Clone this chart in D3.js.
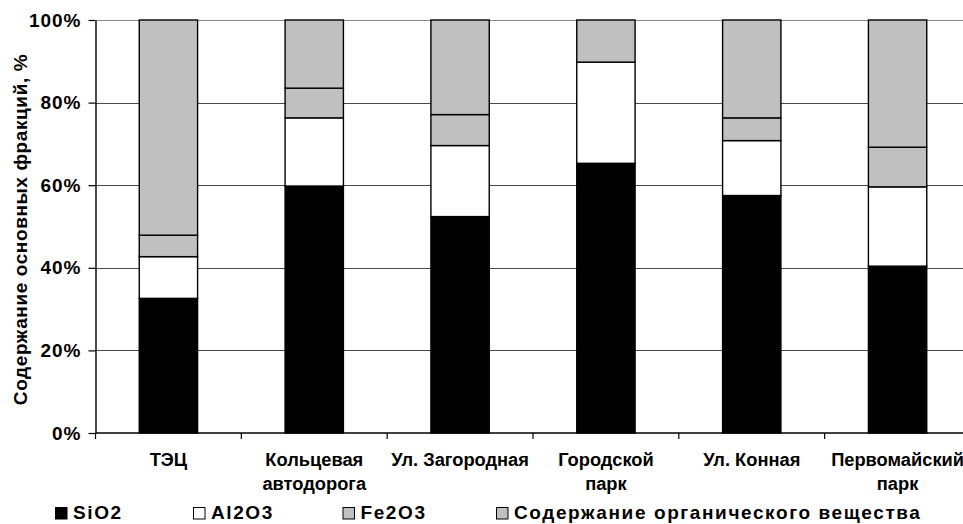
<!DOCTYPE html>
<html>
<head>
<meta charset="utf-8">
<script src="https://cdn.jsdelivr.net/npm/d3@7"></script>
<style>
  html, body { margin: 0; padding: 0; background: #fff; }
  svg { display: block; }
  text { font-family: "Liberation Sans", Arial, sans-serif; font-weight: bold; fill: #000; }
</style>
</head>
<body>
<svg id="chart" width="963" height="524"></svg>
<script>
// Sampling sites (two-line labels split on "\n")
const sites = ["ТЭЦ", "Кольцевая\nавтодорога", "Ул. Загородная", "Городской\nпарк", "Ул. Конная", "Первомайский\nпарк"];

// Share of each fraction, %
const sio2    = [32.6, 59.8, 52.4, 65.3, 57.5, 40.4];
const al2o3   = [10.1, 16.5, 17.2, 24.5, 13.3, 19.2];
const fe2o3   = [5.2, 7.2, 7.5, 0.0, 5.5, 9.6];
const organic = [52.1, 16.5, 22.9, 10.2, 23.7, 30.8];

const seriesNames = ["SiO2", "Al2O3", "Fe2O3", "Содержание органического вещества"];
const seriesColors = ["#000000", "#ffffff", "#c0c0c0", "#c0c0c0"];
const yTicks = [0, 20, 40, 60, 80, 100];
const yTitle = "Содержание основных фракций, %";

const svg = d3.select("#chart");
const plotLeft = 95.5, plotRight = 970.5, plotTop = 20, plotBottom = 433;

const rows = sites.map((s, i) => ({
  site: s, SiO2: sio2[i], Al2O3: al2o3[i], Fe2O3: fe2o3[i],
  "Содержание органического вещества": organic[i]
}));

const x = d3.scaleBand().domain(sites).range([plotLeft, plotRight])
  .paddingInner(0.6).paddingOuter(0.3);
const y = d3.scaleLinear().domain([0, 100]).range([plotBottom, plotTop]);

// Horizontal gridlines
svg.append("g")
  .selectAll("line")
  .data(yTicks.filter(d => d > 0))
  .join("line")
  .attr("x1", plotLeft).attr("x2", plotRight)
  .attr("y1", d => Math.round(y(d)) + 0.5).attr("y2", d => Math.round(y(d)) + 0.5)
  .attr("stroke", d => d === 100 ? "#8a8a8a" : "#4a4a4a")
  .attr("stroke-width", 1);

// Stacked bars
const stack = d3.stack().keys(seriesNames);
const layers = stack(rows);
svg.append("g")
  .selectAll("g")
  .data(layers)
  .join("g")
  .attr("fill", (d, i) => seriesColors[i])
  .selectAll("rect")
  .data(d => d)
  .join("rect")
  .attr("x", d => x(d.data.site))
  .attr("width", x.bandwidth())
  .attr("y", d => y(d[1]))
  .attr("height", d => y(d[0]) - y(d[1]))
  .attr("stroke", "#000")
  .attr("stroke-width", 1.4);

// Y axis
const yAxis = d3.axisLeft(y).tickValues(yTicks).tickFormat(d => d + "%")
  .tickSizeInner(7).tickSizeOuter(0).tickPadding(7);
const gy = svg.append("g").attr("transform", `translate(${plotLeft},0)`).call(yAxis);
gy.select(".domain").attr("stroke", "#000").attr("stroke-width", 1.4);
gy.selectAll(".tick line").attr("stroke", "#000").attr("stroke-width", 1.2);
gy.selectAll(".tick text")
  .attr("font-size", 19)
  .attr("font-family", null)
  .attr("letter-spacing", 1);

// X axis: line with ticks on category boundaries
const step = x.step();
const boundaries = d3.range(sites.length + 1).map(i => plotLeft + i * step);
svg.append("line")
  .attr("x1", plotLeft).attr("x2", plotRight)
  .attr("y1", plotBottom).attr("y2", plotBottom)
  .attr("stroke", "#000").attr("stroke-width", 1.4);
svg.append("g").selectAll("line")
  .data(boundaries)
  .join("line")
  .attr("x1", d => d).attr("x2", d => d)
  .attr("y1", plotBottom).attr("y2", plotBottom + 6)
  .attr("stroke", "#000").attr("stroke-width", 1.2);

// Category labels
const lbl = svg.append("g").selectAll("text")
  .data(sites)
  .join("text")
  .attr("text-anchor", "middle")
  .attr("font-size", 18.3)
  .attr("transform", d => `translate(${x(d) + x.bandwidth() / 2},${465.5})`);
lbl.selectAll("tspan")
  .data(d => d.split("\n"))
  .join("tspan")
  .attr("x", 0)
  .attr("y", (d, i) => i * 24)
  .text(d => d);

// Y axis title
svg.append("text")
  .attr("transform", `translate(27,${(plotTop + plotBottom) / 2 + 3}) rotate(-90)`)
  .attr("text-anchor", "middle")
  .attr("font-size", 19)
  .attr("letter-spacing", 0.6)
  .text(yTitle);

// Legend
const legendX = [55, 193, 342.5, 496];
const lg = svg.append("g").selectAll("g")
  .data(seriesNames)
  .join("g")
  .attr("transform", (d, i) => `translate(${legendX[i]},0)`);
lg.append("rect")
  .attr("x", 0.5).attr("y", 507.5)
  .attr("width", 11.5).attr("height", 11.5)
  .attr("fill", (d, i) => seriesColors[i])
  .attr("stroke", "#000").attr("stroke-width", 1);
lg.append("text")
  .attr("x", 18).attr("y", 518.5)
  .attr("font-size", 19)
  .attr("letter-spacing", 1.6)
  .text(d => d);
</script>
</body>
</html>
